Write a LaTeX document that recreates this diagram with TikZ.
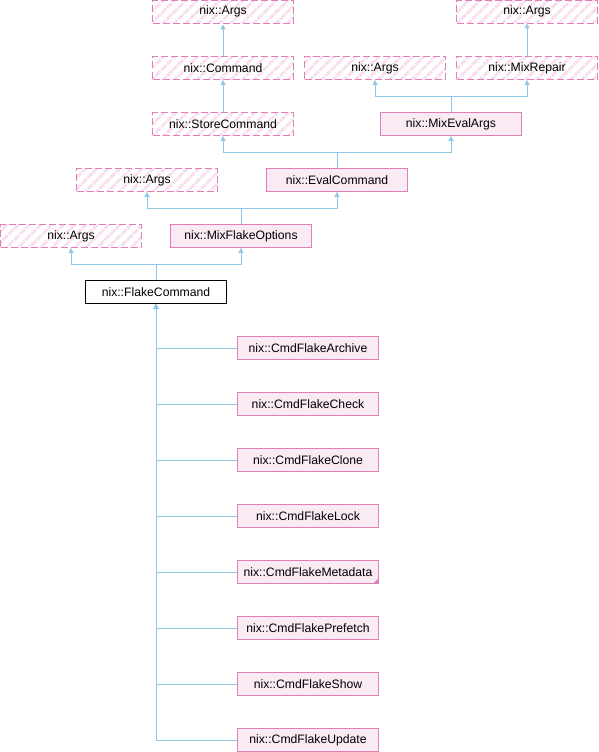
\documentclass[tikz,border=0pt]{standalone}
\usepackage{fontspec}
\setmainfont{Liberation Sans}
\usetikzlibrary{arrows.meta,patterns.meta}
\definecolor{edgeblue}{HTML}{8FC8E6}
\definecolor{boxborder}{HTML}{DE7FB8}
\definecolor{boxfill}{HTML}{F9EAF4}
\definecolor{hatchpink}{HTML}{F8E0EE}
\tikzset{
  cls/.style={minimum width=141pt,minimum height=23pt,inner sep=0pt,
    font=\fontsize{12.2}{14}\selectfont,text=black,line width=0.9pt},
  extcls/.style={cls,draw=boxborder,dash pattern=on 7pt off 3pt,
    pattern={Lines[angle=45,distance=8pt,line width=3pt]},pattern color=hatchpink},
  doccls/.style={cls,draw=boxborder,fill=boxfill},
  maincls/.style={cls,draw=black,fill=white},
  edge/.style={draw=edgeblue,line width=0.9pt,
    -{Triangle[width=5pt,length=5pt,fill=edgeblue]}},
  plain/.style={draw=edgeblue,line width=0.9pt}
}
\begin{document}
\begin{tikzpicture}[x=1pt,y=-1pt]
\useasboundingbox (0,0) rectangle (598,752);
% nodes
\node[extcls] (argsA) at (223,11.5) {nix::Args};
\node[extcls] (argsB) at (527,11.5) {nix::Args};
\node[extcls] (command) at (223,68) {nix::Command};
\node[extcls] (argsC) at (375,68) {nix::Args};
\node[extcls] (mixrepair) at (527,68) {nix::MixRepair};
\node[extcls] (store) at (223,124) {nix::StoreCommand};
\node[doccls] (mixeval) at (451,124) {nix::MixEvalArgs};
\node[extcls] (argsD) at (147,180) {nix::Args};
\node[doccls] (evalcmd) at (337,180) {nix::EvalCommand};
\node[extcls] (argsE) at (71,236) {nix::Args};
\node[doccls] (mixflake) at (241,236) {nix::MixFlakeOptions};
\node[maincls] (flake) at (156,292) {nix::FlakeCommand};
\node[doccls] (archive) at (308,348) {nix::CmdFlakeArchive};
\node[doccls] (check) at (308,404) {nix::CmdFlakeCheck};
\node[doccls] (clone) at (308,460) {nix::CmdFlakeClone};
\node[doccls] (lock) at (308,516) {nix::CmdFlakeLock};
\node[doccls] (metadata) at (308,572) {nix::CmdFlakeMetadata};
\node[doccls] (prefetch) at (308,628) {nix::CmdFlakePrefetch};
\node[doccls] (show) at (308,684) {nix::CmdFlakeShow};
\node[doccls] (update) at (308,740) {nix::CmdFlakeUpdate};
\fill[boxborder] (metadata.south east) -- ++(-6,0) -- ++(6,-6) -- cycle;
% junction levels
\coordinate (j1) at (0,96.7);
\coordinate (j2) at (0,152.3);
\coordinate (j3) at (0,208.3);
\coordinate (j4) at (0,264.3);
% edges
\draw[edge] (command.north) -- (argsA.south);
\draw[edge] (store.north) -- (command.south);
\draw[edge] (mixrepair.north) -- (argsB.south);
\draw[edge] (mixeval.north) -- (mixeval.north |- j1) -| (argsC.south);
\draw[edge] (mixeval.north) -- (mixeval.north |- j1) -| (mixrepair.south);
\draw[edge] (evalcmd.north) -- (evalcmd.north |- j2) -| (store.south);
\draw[edge] (evalcmd.north) -- (evalcmd.north |- j2) -| (mixeval.south);
\draw[edge] (mixflake.north) -- (mixflake.north |- j3) -| (argsD.south);
\draw[edge] (mixflake.north) -- (mixflake.north |- j3) -| (evalcmd.south);
\draw[edge] (flake.north) -- (flake.north |- j4) -| (argsE.south);
\draw[edge] (flake.north) -- (flake.north |- j4) -| (mixflake.south);
\foreach \c in {archive,check,clone,lock,metadata,prefetch,show,update}{
  \draw[edge] (\c.west) -| (flake.south);
}
\end{tikzpicture}
\end{document}
